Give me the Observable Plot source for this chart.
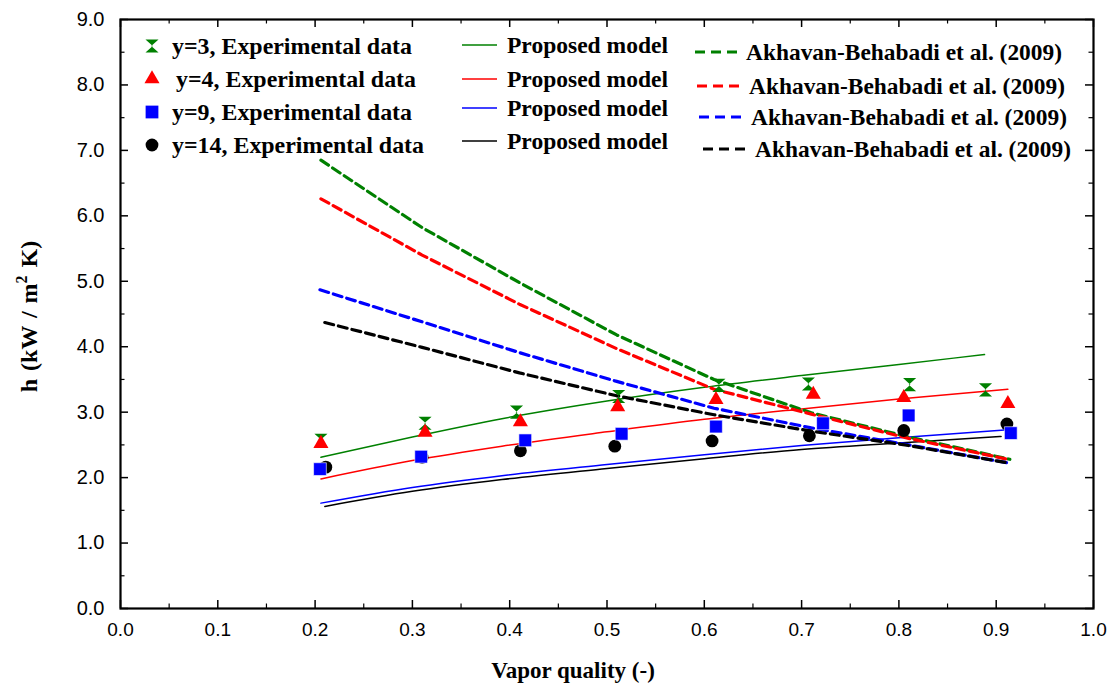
<!DOCTYPE html>
<html>
<head>
<meta charset="utf-8">
<script src="https://cdn.jsdelivr.net/npm/d3@7"></script>
<script src="https://cdn.jsdelivr.net/npm/@observablehq/plot@0.6"></script>
<style>
  html, body { margin: 0; padding: 0; background: #fff; }
  #wrap { position: relative; width: 1120px; height: 689px; }
  #wrap svg { position: absolute; left: 0; top: 0; }
</style>
</head>
<body>
<div id="wrap"></div>
<script>
// ---------- DATA ----------
const seriesLabels = ["y=3", "y=4", "y=9", "y=14"];
const seriesColors = ["#008000", "#ff0000", "#0000ff", "#000000"];
const expLegendSuffix = ", Experimental data";
const modelLabel = "Proposed model";
const akhLabel = "Akhavan-Behabadi et al. (2009)";
const xTitle = "Vapor quality (-)";
const yTitleMain = "h (kW / m";
const yTitleSup = "2";
const yTitleEnd = " K)";

// Experimental data
const expX3  = [0.206, 0.313, 0.407, 0.512, 0.615, 0.707, 0.811, 0.889];
const expH3  = [2.57, 2.83, 3.00, 3.24, 3.41, 3.43, 3.42, 3.34];
const expX4  = [0.206, 0.313, 0.411, 0.511, 0.612, 0.712, 0.805, 0.912];
const expH4  = [2.52, 2.69, 2.85, 3.08, 3.19, 3.27, 3.22, 3.13];
const expX9  = [0.205, 0.309, 0.416, 0.515, 0.612, 0.722, 0.810, 0.915];
const expH9  = [2.13, 2.32, 2.57, 2.67, 2.78, 2.83, 2.95, 2.68];
const expX14 = [0.211, 0.310, 0.411, 0.508, 0.608, 0.708, 0.805, 0.911];
const expH14 = [2.16, 2.31, 2.41, 2.48, 2.56, 2.64, 2.72, 2.82];

// Proposed model (solid lines)
const modX3  = [0.206, 0.300, 0.392, 0.500, 0.600, 0.700, 0.800, 0.888];
const modH3  = [2.31, 2.62, 2.90, 3.17, 3.38, 3.56, 3.73, 3.88];
const modX4  = [0.206, 0.300, 0.392, 0.500, 0.600, 0.700, 0.800, 0.912];
const modH4  = [1.98, 2.26, 2.48, 2.70, 2.89, 3.05, 3.20, 3.35];
const modX9  = [0.206, 0.300, 0.392, 0.500, 0.600, 0.700, 0.800, 0.912];
const modH9  = [1.61, 1.85, 2.03, 2.20, 2.35, 2.49, 2.61, 2.73];
const modX14 = [0.210, 0.300, 0.392, 0.500, 0.600, 0.700, 0.800, 0.905];
const modH14 = [1.56, 1.79, 1.97, 2.14, 2.29, 2.43, 2.53, 2.63];

// Akhavan-Behabadi et al. (2009) (dashed lines)
const akhX3  = [0.206, 0.31, 0.41, 0.51, 0.61, 0.71, 0.81, 0.914];
const akhH3  = [6.85, 5.82, 4.98, 4.18, 3.50, 2.99, 2.62, 2.28];
const akhX4  = [0.206, 0.31, 0.41, 0.51, 0.61, 0.71, 0.81, 0.912];
const akhH4  = [6.26, 5.40, 4.65, 3.97, 3.35, 2.97, 2.60, 2.28];
const akhX9  = [0.205, 0.31, 0.41, 0.51, 0.61, 0.71, 0.81, 0.914];
const akhH9  = [4.87, 4.38, 3.91, 3.47, 3.06, 2.76, 2.50, 2.22];
const akhX14 = [0.210, 0.31, 0.41, 0.51, 0.61, 0.71, 0.81, 0.914];
const akhH14 = [4.37, 3.99, 3.60, 3.25, 2.96, 2.71, 2.49, 2.22];

// Ticks
const xMajor = [0, 0.1, 0.2, 0.3, 0.4, 0.5, 0.6, 0.7, 0.8, 0.9, 1.0];
const xMinor = [0.05, 0.15, 0.25, 0.35, 0.45, 0.55, 0.65, 0.75, 0.85, 0.95];
const yMajor = [0, 1, 2, 3, 4, 5, 6, 7, 8, 9];
const yMinor = [0.5, 1.5, 2.5, 3.5, 4.5, 5.5, 6.5, 7.5, 8.5];

// ---------- TABLES ----------
const expXs = [expX3, expX4, expX9, expX14];
const expHs = [expH3, expH4, expH9, expH14];
const modXs = [modX3, modX4, modX9, modX14];
const modHs = [modH3, modH4, modH9, modH14];
const akhXs = [akhX3, akhX4, akhX9, akhX14];
const akhHs = [akhH3, akhH4, akhH9, akhH14];

const rowsOf = (xs, hs, i) => xs.map((x, j) => ({x, h: hs[j], s: seriesLabels[i]}));
const expRows = seriesLabels.map((_, i) => rowsOf(expXs[i], expHs[i], i));
const modRows = seriesLabels.flatMap((_, i) => rowsOf(modXs[i], modHs[i], i));
const akhRows = seriesLabels.flatMap((_, i) => rowsOf(akhXs[i], akhHs[i], i));

// hourglass symbol
const hourglass = {
  draw(ctx, size) {
    const s = Math.sqrt(size) / 2;
    ctx.moveTo(-s, -s);
    ctx.lineTo(s, -s);
    ctx.lineTo(-s * 0.12, 0);
    ctx.lineTo(s, s);
    ctx.lineTo(-s, s);
    ctx.lineTo(s * 0.12, 0);
    ctx.closePath();
  }
};
const symbols = [hourglass, "triangle", "square", "circle"];
const symbolR = [7.4, 5.6, 7.2, 6.4];

// ---------- LAYOUT ----------
const W = 1120, H = 689;
const mL = 120, mR = 27, mT = 19, mB = 81;
const innerW = W - mL - mR, innerH = H - mT - mB;
const majorLen = 8, minorLen = 4.5;
const sans = "'Liberation Sans', Arial, sans-serif";
const serif = "'Liberation Serif', 'Times New Roman', serif";

const colorScale = {domain: seriesLabels, range: seriesColors};

const marks = [
  // inward ticks: bottom, top, left, right
  Plot.ruleX(xMajor, {insetTop: innerH - majorLen, strokeWidth: 1.5}),
  Plot.ruleX(xMinor, {insetTop: innerH - minorLen, strokeWidth: 1.2}),
  Plot.ruleX(xMajor, {insetBottom: innerH - majorLen, strokeWidth: 1.5}),
  Plot.ruleX(xMinor, {insetBottom: innerH - minorLen, strokeWidth: 1.2}),
  Plot.ruleY(yMajor, {insetRight: innerW - majorLen, strokeWidth: 1.5}),
  Plot.ruleY(yMinor, {insetRight: innerW - minorLen, strokeWidth: 1.2}),
  Plot.ruleY(yMajor, {insetLeft: innerW - majorLen, strokeWidth: 1.5}),
  Plot.ruleY(yMinor, {insetLeft: innerW - minorLen, strokeWidth: 1.2}),
  Plot.frame({stroke: "#000", strokeWidth: 2.2}),
  Plot.axisX(xMajor, {tickSize: 0, tickPadding: 14, tickFormat: d3.format(".1f"),
    fontSize: 19, fontFamily: sans, label: null}),
  Plot.axisY(yMajor, {tickSize: 0, tickPadding: 16, tickFormat: d3.format(".1f"),
    fontSize: 20, fontFamily: sans, label: null}),
  // model lines
  Plot.line(modRows, {x: "x", y: "h", z: "s", stroke: "s", strokeWidth: 1.5, curve: "monotone-x"}),
  // Akhavan dashed lines
  Plot.line(akhRows, {x: "x", y: "h", z: "s", stroke: "s", strokeWidth: 3.2,
    strokeDasharray: "9,5"}),
];
// experimental markers (black circles first, then squares, hourglasses, triangles)
[3, 2, 0, 1].forEach(i => {
  marks.push(Plot.dot(expRows[i], {x: "x", y: "h", symbol: () => symbols[i], r: symbolR[i],
    fill: seriesColors[i], stroke: i === 2 ? "#ffffff" : "none", strokeWidth: 0.6}));
});
// x title
marks.push(Plot.text([xTitle], {frameAnchor: "bottom", dx: -34, dy: 69, text: d => d,
  fontSize: 23, fontWeight: "bold", fontFamily: serif}));

const chart = Plot.plot({
  width: W, height: H,
  marginLeft: mL, marginRight: mR, marginTop: mT, marginBottom: mB,
  x: {domain: [0, 1]},
  y: {domain: [0, 9]},
  color: colorScale,
  symbol: {type: "identity"},
  style: {background: "#fff", color: "#000", overflow: "visible"},
  marks
});
const wrap = document.getElementById("wrap");
wrap.appendChild(chart);

// ---------- OVERLAY: legend + y title ----------
const ov = d3.select(wrap).append("svg")
  .attr("width", W).attr("height", H)
  .style("pointer-events", "none");

// y title
const yt = ov.append("text")
  .attr("transform", `translate(37,${mT + innerH / 2 + 3}) rotate(-90)`)
  .attr("text-anchor", "middle")
  .attr("font-family", serif).attr("font-weight", "bold").attr("font-size", 24)
  .attr("word-spacing", 2)
  .attr("fill", "#000");
yt.append("tspan").text(yTitleMain);
yt.append("tspan").attr("dy", -10).attr("font-size", 16).text(yTitleSup);
yt.append("tspan").attr("dy", 10).text(yTitleEnd);

// legend layout
const col1 = {symX: 152, textX: [172, 176, 172, 172], rowY: [46, 79, 112, 145], len: [240, 240, 240, 252]};
const col2 = {x1: 462, x2: 497, textX: 507, rowY: [45, 79, 108, 141], len: 161};
const col3 = {x1: [695, 697, 699, 703], len: 42, textX: [746, 749, 751, 755], rowY: [52, 86, 117, 149], tlen: 316};
const legFont = {family: serif, size: 22.5};

function legText(x, y, str, len) {
  ov.append("text").attr("x", x).attr("y", y).attr("dy", "0.35em")
    .attr("font-family", legFont.family).attr("font-weight", "bold").attr("font-size", legFont.size)
    .attr("textLength", len).attr("lengthAdjust", "spacingAndGlyphs")
    .text(str);
}

seriesLabels.forEach((lab, i) => {
  const sym = typeof symbols[i] === "string"
    ? {triangle: d3.symbolTriangle, square: d3.symbolSquare, circle: d3.symbolCircle}[symbols[i]]
    : symbols[i];
  ov.append("path")
    .attr("d", d3.symbol(sym, Math.PI * symbolR[i] * symbolR[i])())
    .attr("transform", `translate(${col1.symX},${col1.rowY[i]})`)
    .attr("fill", seriesColors[i]);
  legText(col1.textX[i], col1.rowY[i], lab + expLegendSuffix, col1.len[i]);
  ov.append("line").attr("x1", col2.x1).attr("x2", col2.x2)
    .attr("y1", col2.rowY[i]).attr("y2", col2.rowY[i])
    .attr("stroke", seriesColors[i]).attr("stroke-width", 1.5);
  legText(col2.textX, col2.rowY[i], modelLabel, col2.len);
  ov.append("line").attr("x1", col3.x1[i]).attr("x2", col3.x1[i] + col3.len)
    .attr("y1", col3.rowY[i]).attr("y2", col3.rowY[i])
    .attr("stroke", seriesColors[i]).attr("stroke-width", 3.2).attr("stroke-dasharray", "10,6");
  legText(col3.textX[i], col3.rowY[i], akhLabel, col3.tlen);
});
</script>
</body>
</html>
